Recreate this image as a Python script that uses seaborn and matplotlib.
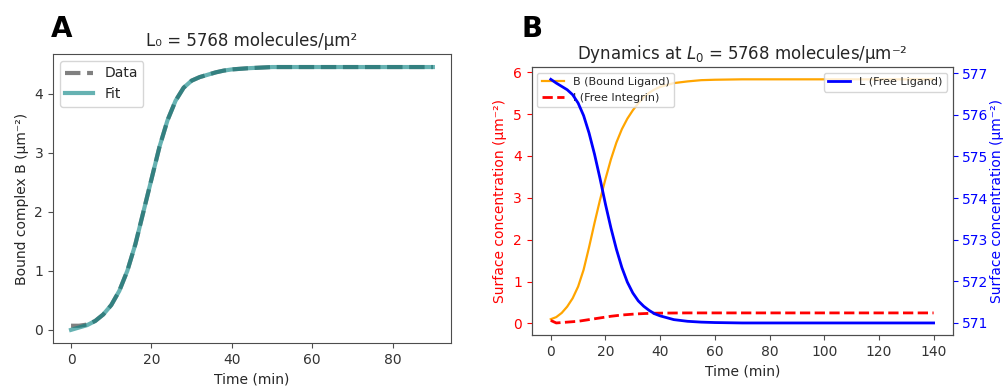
import numpy as np
import pandas as pd
import matplotlib
matplotlib.use("Agg")
import matplotlib.pyplot as plt
import seaborn as sns

# ---------------- Panel A data ----------------
time_a = [0, 2, 4, 6, 8, 10, 12, 14, 16, 18, 20, 22, 24, 26, 28, 30, 32, 34, 36, 38,
          40, 44, 50, 60, 70, 80, 90]
fit_a = [0.00, 0.04, 0.08, 0.15, 0.26, 0.42, 0.66, 1.00, 1.45, 2.00, 2.55, 3.10, 3.55,
         3.88, 4.10, 4.22, 4.28, 4.32, 4.36, 4.39, 4.41, 4.43, 4.45, 4.45, 4.45, 4.45, 4.45]
data_a = [0.07, 0.07, 0.09, 0.15, 0.26, 0.42, 0.66, 1.00, 1.45, 2.00, 2.55, 3.10, 3.55,
          3.88, 4.10, 4.22, 4.28, 4.32, 4.36, 4.39, 4.41, 4.43, 4.45, 4.45, 4.45, 4.45, 4.45]

# ---------------- Panel B data ----------------
time_b = [0, 2, 4, 6, 8, 10, 12, 14, 16, 18, 20, 22, 24, 26, 28, 30, 32, 34, 36, 38, 40,
          45, 50, 55, 60, 70, 80, 90, 100, 110, 120, 130, 140]
bound_b = [0.10, 0.15, 0.25, 0.40, 0.60, 0.88, 1.28, 1.82, 2.40, 2.95, 3.45, 3.92, 4.32,
           4.64, 4.89, 5.09, 5.26, 5.40, 5.51, 5.59, 5.65, 5.74, 5.78, 5.81, 5.82, 5.83,
           5.83, 5.83, 5.83, 5.83, 5.83, 5.83, 5.83]
integrin_b = [0.07, 0.01, 0.02, 0.03, 0.04, 0.05, 0.07, 0.09, 0.11, 0.13, 0.15, 0.17, 0.185,
              0.20, 0.21, 0.22, 0.228, 0.234, 0.239, 0.243, 0.245, 0.248, 0.25, 0.25, 0.25,
              0.25, 0.25, 0.25, 0.25, 0.25, 0.25, 0.25, 0.25]
ligand_b = [576.85, 576.76, 576.68, 576.60, 576.48, 576.28, 575.98, 575.56, 575.05, 574.47,
            573.85, 573.28, 572.77, 572.33, 571.98, 571.72, 571.53, 571.40, 571.30, 571.22,
            571.17, 571.08, 571.04, 571.02, 571.01, 571.00, 571.00, 571.00, 571.00, 571.00,
            571.00, 571.00, 571.00]

title_a = "L\u2080 = 5768 molecules/\u03bcm\u00b2"
title_b = "Dynamics at $L_0$ = 5768 molecules/\u03bcm\u207b\u00b2"

plt.rcParams['font.family'] = ['DejaVu Sans']
plt.rcParams['axes.edgecolor'] = '0.3'
plt.rcParams['xtick.color'] = '0.3'
plt.rcParams['ytick.color'] = '0.3'
plt.rcParams['xtick.labelcolor'] = '0.2'
plt.rcParams['ytick.labelcolor'] = '0.2'
plt.rcParams['text.color'] = '0.15'
plt.rcParams['axes.labelcolor'] = '0.15'

fig = plt.figure(figsize=(10.05, 3.87), dpi=100)
axA = fig.add_axes([0.0527, 0.1137, 0.396, 0.747])
axB = fig.add_axes([0.529, 0.134, 0.419, 0.6925])

# ---- Panel A ----
sns.lineplot(x=time_a, y=data_a, ax=axA, color='gray', lw=3, linestyle='--', label='Data')
sns.lineplot(x=time_a, y=fit_a, ax=axA, color='teal', alpha=0.6, lw=3, label='Fit')
axA.legend(loc='upper left', fontsize=10)
axA.set_title(title_a, fontsize=12)
axA.set_xlabel("Time (min)", fontsize=10)
axA.set_ylabel("Bound complex B (\u03bcm\u207b\u00b2)", fontsize=10)
axA.set_xticks([0, 20, 40, 60, 80])
axA.set_yticks([0, 1, 2, 3, 4])

# ---- Panel B ----
sns.lineplot(x=time_b, y=bound_b, ax=axB, color='orange', lw=1.6, label='B (Bound Ligand)')
sns.lineplot(x=time_b, y=integrin_b, ax=axB, color='red', lw=2, linestyle='--',
             label='I (Free Integrin)')
axB.legend(loc='upper left', fontsize=8)
axB.set_xlabel("Time (min)", fontsize=10)
axB.set_ylabel("Surface concentration (\u03bcm\u207b\u00b2)", color='red', fontsize=10)
axB.tick_params(axis='y', colors='red', labelcolor='red')
axB.set_yticks([0, 1, 2, 3, 4, 5, 6])
axB.set_xticks([0, 20, 40, 60, 80, 100, 120, 140])
axB.set_title(title_b, fontsize=12)

axB2 = axB.twinx()
sns.lineplot(x=time_b, y=ligand_b, ax=axB2, color='blue', lw=2, label='L (Free Ligand)')
axB2.legend(loc='upper right', fontsize=8)
axB2.set_ylabel("Surface concentration (\u03bcm\u207b\u00b2)", color='blue', fontsize=10,
                labelpad=1)
axB2.tick_params(axis='y', colors='blue', labelcolor='blue', pad=3)
axB2.set_yticks([571, 572, 573, 574, 575, 576, 577])

fig.text(0.051, 0.905, "A", fontsize=20, fontweight='bold', color='black')
fig.text(0.519, 0.905, "B", fontsize=20, fontweight='bold', color='black')

fig.savefig("out.png", dpi=100)
